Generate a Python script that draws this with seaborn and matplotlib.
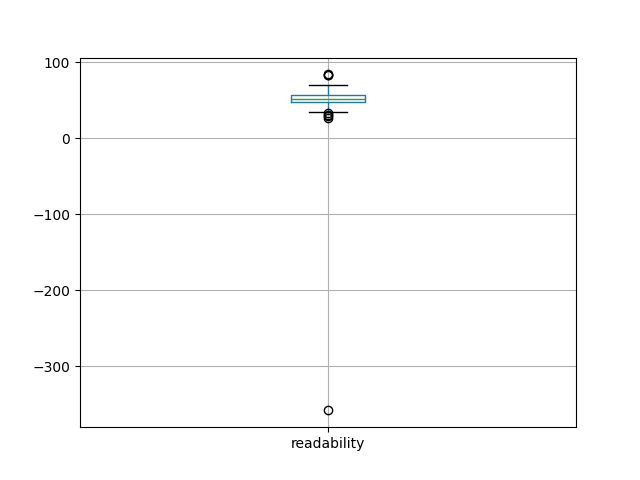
import pandas as pd
import matplotlib
matplotlib.use('Agg')
import matplotlib.pyplot as plt
import seaborn as sns

# readability scores
readability = [
    -358, 26, 29, 31, 33, 34.5, 38, 41, 43, 45, 47.5, 47.5, 48, 48, 49, 49,
    50, 50, 51, 51, 51, 52, 52, 53, 53, 54, 54, 55, 55, 56, 56.5, 57, 57, 58,
    60, 62, 65, 70, 83, 83.5, 84,
]
column = 'readability'

df = pd.DataFrame({'variable': column, 'value': readability})

fig, ax = plt.subplots(figsize=(6.4, 4.8), dpi=100)
sns.boxplot(
    data=df, x='variable', y='value', ax=ax, width=0.15, fill=False,
    boxprops=dict(color='C0', linewidth=1),
    medianprops=dict(color='C2', linewidth=1),
    whiskerprops=dict(color='C0', linewidth=1),
    capprops=dict(color='black', linewidth=1),
    flierprops=dict(marker='o', markerfacecolor='none', markeredgecolor='black',
                    markersize=6, linewidth=0),
)
ax.set_xlabel('')
ax.set_ylabel('')
ax.grid(True)
plt.savefig('out.png', dpi=100)
